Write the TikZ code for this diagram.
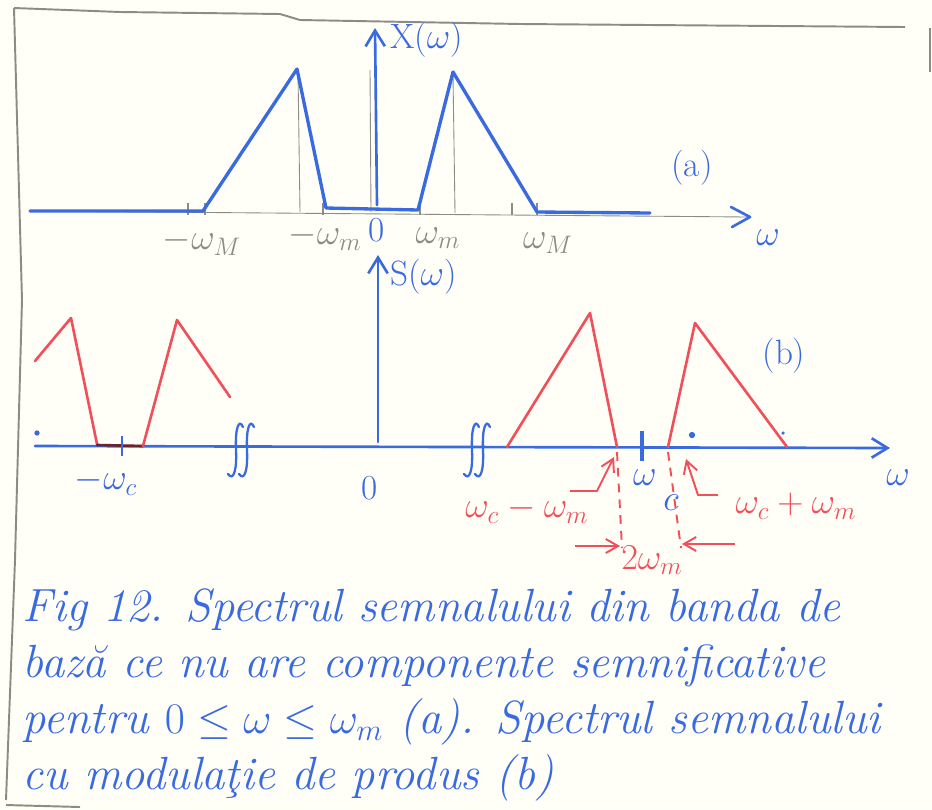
\documentclass[tikz,border=0pt]{standalone}
\usepackage{amsmath}
\usetikzlibrary{arrows.meta, calc}
\definecolor{cInk}{HTML}{3A6AE0}
\definecolor{cRosu}{HTML}{F0505A}
\definecolor{cCreion}{HTML}{8C8C84}
\definecolor{cHartie}{HTML}{FFFFF8}
\tikzset{
    ax/.style={cInk, line width=1.5pt, line cap=round,
               -{Straight Barb[length=9pt, width=11pt, line width=1.5pt]}},
    spec/.style={cInk, line width=1.9pt, line join=round, line cap=round},
    specR/.style={cRosu, line width=1.5pt, line join=round, line cap=round},
    pencil/.style={cCreion, line width=0.5pt},
    frame/.style={cCreion, line width=1.1pt},
    brk/.style={cInk, line width=1.3pt, line cap=round},
    lblP/.style={text=cCreion, font=\fontsize{20}{22}\selectfont, inner sep=1pt},
    lblB/.style={text=cInk, font=\fontsize{20}{22}\selectfont, inner sep=1pt},
    lblR/.style={text=cRosu, font=\fontsize{20}{22}\selectfont, inner sep=1pt},
    redarr/.style={cRosu, line width=1.1pt, line join=round,
                   -{Straight Barb[length=7pt, width=8pt]}},
    dimln/.style={cRosu, line width=1.1pt, dash pattern=on 5pt off 4pt},
    capt/.style={text=cInk, align=left, inner sep=0pt,
                 font=\fontsize{26.5}{32}\selectfont\itshape},
}

\begin{document}
\begin{tikzpicture}[x=0.02cm, y=-0.02cm]

\fill[cHartie] (0,0) rectangle (932,809);
\useasboundingbox (0,0) rectangle (932,809);

% chenarul de creion
\draw[frame] (14,8) -- (120,12) -- (280,14) -- (300,20) -- (520,24) -- (905,27);
\draw[frame] (14,8) -- (22,300) -- (15,560) -- (6,800);
\draw[frame] (6,805) -- (80,807);
\draw[frame] (930,28) -- (930,72);

% ---------- (a) spectrul semnalului in banda de baza ----------
\draw[pencil] (30,211) -- (748,217);
\draw[cInk, line width=1.5pt, line cap=round, line join=round]
     (731,207) -- (750,217) -- (732,227);
\draw[ax] (377,205) -- (375,28);
\node[lblB, anchor=west] (Xw) at (388,40) {X($\omega$)};

% linii ajutatoare
\draw[pencil] (298,72) -- (300,212);
\draw[pencil] (453,75) -- (455,213);
\draw[pencil] (370,70) -- (371,212);
\foreach \tx in {188,205,323,420,512,537}{
    \draw[pencil, line width=0.9pt] (\tx,203) -- (\tx,215);}

% spectrul X(w)
\draw[spec] (30,211) -- (203,211) -- (297,69) -- (326,208) -- (418,210)
            -- (453,72) -- (537,212) -- (650,213);

\node[lblP] (wMneg) at (202,242) {$-\omega_M$};
\node[lblP] (wmneg) at (325,237) {$-\omega_m$};
\node[lblB] (zeroA) at (377,230) {0};
\node[lblP] (wmpos) at (438,238) {$\omega_m$};
\node[lblP] (wMpos) at (548,243) {$\omega_M$};
\node[lblB] (capA) at (692,168) {(a)};
\node[lblB] (omA) at (768,238) {$\omega$};

% ---------- (b) spectrul semnalului modulat ----------
\draw[ax] (35,446) -- (890,448);
\draw[ax] (378,442) -- (378,255);
\node[lblB, anchor=west] (Sw) at (388,277) {S($\omega$)};
\node[lblB] (omB) at (898,478) {$\omega$};
\node[lblB] (zeroB) at (370,488) {0};
\node[lblB] (capB) at (784,356) {(b)};

% intreruperi ale axei
\foreach \bx in {236,472}{
  \foreach \dx in {0,11}{
    \draw[brk] ({\bx+\dx+7},427) .. controls ({\bx+\dx+3},418) and ({\bx+\dx-1},428)
               .. ({\bx+\dx},450) .. controls ({\bx+\dx+1},472) and ({\bx+\dx-3},481)
               .. ({\bx+\dx-8},474);}}

% benzile laterale in jurul lui -w_c
\draw[specR] (35,361) -- (71,318) -- (97,444);
\draw[specR, cRosu!45!black] (97,445) -- (143,446);
\draw[specR] (143,446) -- (177,320) -- (230,397);
\draw[cInk, line width=1.3pt] (122,436) -- (122,456);
\fill[cInk] (37,433) circle (1.5pt);
\node[lblB] (wcneg) at (106,482) {$-\omega_c$};

% benzile laterale in jurul lui w_c
\draw[specR] (507,447) -- (590,313) -- (617,447);
\draw[specR] (668,447) -- (695,323) -- (787,447);
\draw[cInk, line width=2pt] (642,431) -- (642,461);
\fill[cInk] (692,435) circle (1.8pt);
\fill[cInk] (783,433) circle (1pt);
\node[lblB] (wc) at (645,478) {$\omega$};
\node[lblB] (wcsub) at (671,503) {$c$};

% etichete rosii
\coordinate (flo) at (614,457);
\coordinate (fhi) at (686,459);
\node[lblR] (wlo) at (527,510) {$\omega_c-\omega_m$};
\node[lblR] (whi) at (796,506) {$\omega_c+\omega_m$};
\draw[redarr] (570,491) -- (597,491) -- (flo);
\draw[redarr] (718,495) -- (698,495) -- (fhi);

% latimea de banda
\draw[dimln] (617,452) -- (622,548);
\draw[dimln] (668,452) -- (681,548);
\coordinate (dlo) at (620,546);
\coordinate (dhi) at (682,544);
\draw[redarr] (575,546) -- (dlo);
\draw[redarr] (735,544) -- (dhi);
\node[lblR] (bw) at (652,560) {$2\omega_m$};

% legenda
\node[capt, anchor=north west] (legenda) at (22,588)
    {Fig 12. Spectrul semnalului din banda de\\
     bază ce nu are componente semnificative\\
     pentru $0\leq\omega\leq\omega_m$ (a). Spectrul semnalului\\
     cu modulaţie de produs (b)};

\end{tikzpicture}
\end{document}
